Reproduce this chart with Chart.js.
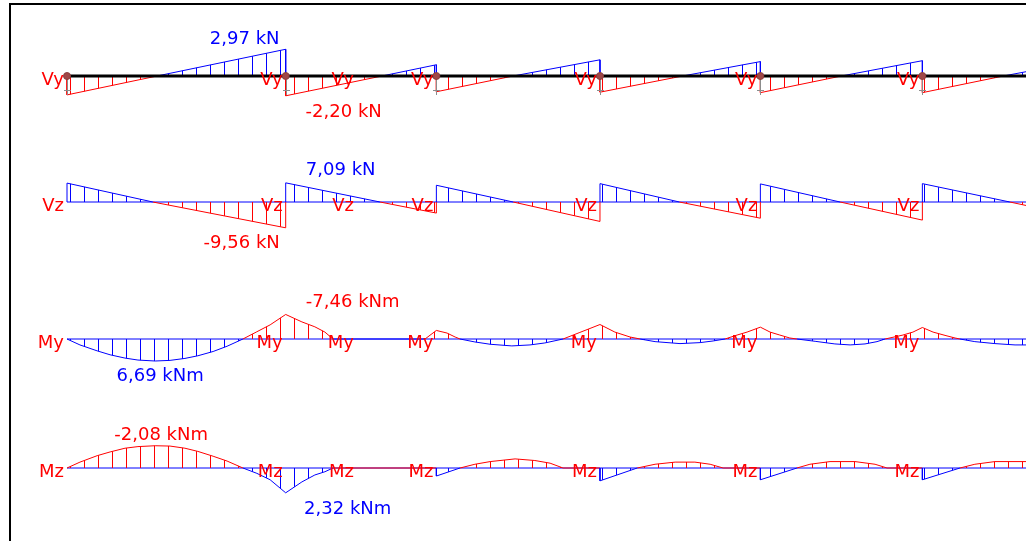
<!DOCTYPE html>
<html>
<head>
<meta charset="utf-8">
<script src="https://cdn.jsdelivr.net/npm/chart.js@4"></script>
<style>
  html, body { margin: 0; padding: 0; background: #fff; }
  #wrap { position: relative; width: 1026px; height: 541px; }
</style>
</head>
<body>
<div id="wrap"><canvas id="beam" width="1026" height="541"></canvas></div>
<script>
// internal force diagrams of a continuous beam
// stations are metres along the beam
const nodes = [0, 6.75, 11.4, 16.45, 21.4, 26.4, 31.4];
const labelStations = [0, 6.75, 8.95, 11.4, 16.45, 21.4, 26.4];
const rowNames = ['Vy', 'Vz', 'My', 'Mz'];

const vyX = [0, 0, 2.78, 6.75, 6.75, 6.75, 9.72, 11.4, 11.4, 11.4, 13.77, 16.45, 16.45, 16.45, 19.0, 21.4, 21.4, 21.4, 23.9, 26.4, 26.4, 26.4, 28.9, 31.4];
const vyV = [0, -2.1, 0, 2.97, 0, -2.20, 0, 1.25, 0, -1.75, 0, 1.8, 0, -1.8, 0, 1.6, 0, -1.85, 0, 1.7, 0, -1.85, 0, 1.7];

const vzX = [0, 0, 2.65, 6.75, 6.75, 6.75, 9.66, 11.4, 11.4, 11.4, 13.77, 16.45, 16.45, 16.45, 18.9, 21.4, 21.4, 21.4, 23.86, 26.4, 26.4, 26.4, 29.1, 31.4];
const vzV = [0, 7.0, 0, -9.56, 0, 7.09, 0, -4.1, 0, 6.2, 0, -7.2, 0, 6.8, 0, -6.0, 0, 6.7, 0, -6.7, 0, 6.8, 0, -5.9];

const myX = [0, 0.4, 0.93, 1.33, 1.79, 2.19, 2.72, 3.18, 3.64, 4.04, 4.51, 4.94, 5.43,
  5.86, 6.27, 6.75, 7.25, 7.65, 7.96, 8.21,
  11.05, 11.4, 11.73, 11.98, 12.13,
  12.59, 13.06, 13.73, 14.29, 14.75, 15.31,
  15.83, 16.45, 16.91, 17.38, 17.69,
  18.15, 18.92, 19.54, 19.94, 20.31,
  20.68, 20.99, 21.4, 21.7, 22.0, 22.31, 22.53,
  23.09, 23.7, 24.17, 24.63, 25.0, 25.25,
  25.8, 26.11, 26.4, 26.73, 27.1, 27.41, 27.56,
  28.02, 28.64, 29.26, 29.72];
const myV = [0, 1.8, 3.6, 4.8, 5.8, 6.4, 6.69, 6.5, 5.9, 5.1, 3.8, 2.2, 0,
  -2.2, -4.3, -7.46, -5.2, -3.7, -2.1, 0,
  0, -2.6, -1.8, -0.6, 0,
  0.9, 1.6, 2.1, 1.8, 1.2, 0,
  -2.0, -4.4, -2.1, -0.6, 0,
  0.8, 1.4, 1.1, 0.6, 0,
  -1.2, -2.1, -3.6, -2.1, -1.2, -0.3, 0,
  0.7, 1.5, 1.8, 1.5, 0.8, 0,
  -1.2, -2.1, -3.5, -2.1, -1.1, -0.3, 0,
  0.8, 1.4, 1.8, 1.8];

const mzX = [0, 0.4, 0.93, 1.33, 1.79, 2.19, 2.72, 3.18, 3.64, 4.04, 4.51, 4.94, 5.43,
  5.86, 6.27, 6.75, 7.25, 7.65, 7.96, 8.21,
  11.4, 11.4, 12.13,
  12.59, 13.06, 13.83, 14.44, 14.91, 15.31,
  16.45, 16.45, 17.6,
  18.15, 18.77, 19.38, 19.85, 20.25,
  21.4, 21.4, 22.53,
  22.93, 23.55, 24.32, 24.94, 25.31,
  26.4, 26.4, 27.56,
  28.02, 28.64, 29.72];
const mzV = [0, -0.55, -1.15, -1.5, -1.85, -2.0, -2.08, -2.05, -1.85, -1.55, -1.1, -0.65, 0,
  0.5, 1.1, 2.32, 1.3, 0.65, 0.35, 0,
  0, 0.75, 0,
  -0.35, -0.6, -0.85, -0.7, -0.45, 0,
  0, 1.2, 0,
  -0.35, -0.55, -0.55, -0.35, 0,
  0, 1.1, 0,
  -0.35, -0.6, -0.6, -0.35, 0,
  0, 1.1, 0,
  -0.35, -0.6, -0.6];

// which point of which row gets a value label, and the unit shown
const peaks = [
  { row: 0, i: 3, unit: 'kN' }, { row: 0, i: 5, unit: 'kN' },
  { row: 1, i: 5, unit: 'kN' }, { row: 1, i: 3, unit: 'kN' },
  { row: 2, i: 15, unit: 'kNm' }, { row: 2, i: 6, unit: 'kNm' },
  { row: 3, i: 6, unit: 'kNm' }, { row: 3, i: 15, unit: 'kNm' }
];

// ---- layout ----
const W = 1026, H = 541;
const X0 = 67, PX_PER_M = 32.4;
const BLUE = '#0000ff', RED = '#ff0000';
const rows = [
  { id: 'yVy', xs: vyX, vs: vyV, base: 76, k: 9, reverse: false, flat: BLUE },
  { id: 'yVz', xs: vzX, vs: vzV, base: 202, k: 2.7, reverse: false, flat: BLUE },
  { id: 'yMy', xs: myX, vs: myV, base: 339, k: 3.29, reverse: true, flat: BLUE },
  { id: 'yMz', xs: mzX, vs: mzV, base: 468, k: 10.7, reverse: true, flat: RED }
];
const peakOffsets = [[-41, -10], [58, 17], [55, -13], [-44, 16], [67, -12], [5, 15], [6, -10], [62, 17]];

function hatch(color) {
  const c = document.createElement('canvas');
  c.width = 14; c.height = 4;
  const g = c.getContext('2d');
  g.fillStyle = color;
  g.fillRect(0, 0, 1, 4);
  return g.createPattern(c, 'repeat');
}
const blueHatch = hatch(BLUE), redHatch = hatch(RED);

function part(xs, vs, positive) {
  return xs.map((x, i) => ({ x, y: (positive ? vs[i] >= 0 : vs[i] <= 0) ? vs[i] : null }));
}
// hide the zero-to-zero pieces in the colour that does not own the flat parts
const hideFlat = { borderColor: c => (c.p0.parsed.y === 0 && c.p1.parsed.y === 0) ? 'rgba(0,0,0,0)' : undefined };

const scales = {
  x: { type: 'linear', display: false, min: -X0 / PX_PER_M, max: (W - X0) / PX_PER_M }
};
const datasets = [];
rows.forEach((r, n) => {
  scales[r.id] = r.reverse
    ? { type: 'linear', display: false, reverse: true, min: -r.base / r.k, max: (H - r.base) / r.k }
    : { type: 'linear', display: false, min: -(H - r.base) / r.k, max: r.base / r.k };
  datasets.push({
    data: part(r.xs, r.vs, true), yAxisID: r.id, borderColor: BLUE, backgroundColor: blueHatch,
    borderWidth: 1, pointRadius: 0, fill: 'origin', order: 3,
    segment: r.flat === BLUE ? {} : hideFlat
  });
  datasets.push({
    data: part(r.xs, r.vs, false), yAxisID: r.id, borderColor: RED, backgroundColor: redHatch,
    borderWidth: 1, pointRadius: 0, fill: 'origin', order: 4,
    segment: r.flat === RED ? {} : hideFlat
  });
  const ends = [{ x: nodes[0], y: 0 }, { x: nodes[nodes.length - 1], y: 0 }];
  if (n === 0) {
    datasets.push({ data: ends, yAxisID: r.id, borderColor: '#000', borderWidth: 3, pointRadius: 0, fill: false, order: 1 });
    datasets.push({
      data: nodes.map(x => ({ x, y: 0 })), yAxisID: r.id, showLine: false,
      pointRadius: 3.5, pointBackgroundColor: '#a04848', pointBorderColor: '#8a4040', pointBorderWidth: 1, order: 0
    });
  } else {
    datasets.push({ data: ends, yAxisID: r.id, borderColor: BLUE, borderWidth: 1, pointRadius: 0, fill: false, order: 6 });
  }
});

const decor = {
  id: 'decor',
  afterDatasetsDraw(chart) {
    const { ctx } = chart;
    const sx = chart.scales.x;
    ctx.save();
    // support marks below the nodes
    const yb = chart.scales.yVy.getPixelForValue(0);
    ctx.fillStyle = '#8c8c8c';
    nodes.forEach(n => {
      const px = Math.round(sx.getPixelForValue(n));
      ctx.fillRect(px, yb + 4, 1, 15);
      ctx.fillRect(px - 3, yb + 14, 7, 1);
    });
    // row names at every node
    ctx.font = '18px "DejaVu Sans"';
    ctx.fillStyle = RED;
    ctx.textAlign = 'right';
    ctx.textBaseline = 'middle';
    rows.forEach((r, n) => {
      const py = chart.scales[r.id].getPixelForValue(0) + 4;
      labelStations.forEach(s => ctx.fillText(rowNames[n], sx.getPixelForValue(s) - 3, py));
    });
    // extreme values
    ctx.textAlign = 'center';
    peaks.forEach((p, j) => {
      const r = rows[p.row];
      const v = r.vs[p.i];
      const px = sx.getPixelForValue(r.xs[p.i]) + peakOffsets[j][0];
      const py = chart.scales[r.id].getPixelForValue(v) + peakOffsets[j][1];
      ctx.fillStyle = v < 0 ? RED : BLUE;
      ctx.fillText(v.toFixed(2).replace('.', ',') + ' ' + p.unit, px, py);
    });
    // frame
    ctx.fillStyle = '#000';
    ctx.fillRect(9, 3, 2, H);
    ctx.fillRect(9, 3, W, 2);
    ctx.restore();
  }
};

new Chart(document.getElementById('beam'), {
  type: 'line',
  data: { datasets },
  options: {
    responsive: false,
    devicePixelRatio: 1,
    animation: false,
    events: [],
    layout: { padding: 0, autoPadding: false },
    scales,
    plugins: { legend: { display: false }, tooltip: { enabled: false } }
  },
  plugins: [decor]
});
</script>
</body>
</html>
